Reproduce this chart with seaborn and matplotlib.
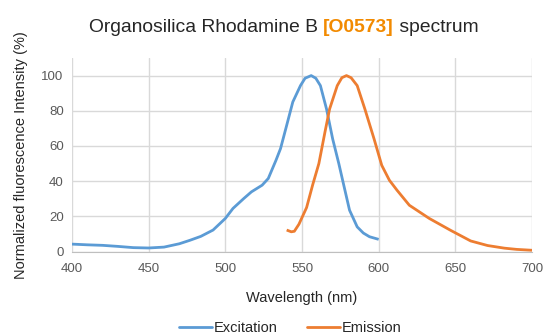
import seaborn as sns
import matplotlib.pyplot as plt
import pandas as pd

# Excitation spectrum
ex_wl = [400, 410, 420, 430, 440, 450, 460, 470, 477, 484, 492, 500, 505, 512,
         517, 524, 528, 533, 536, 540, 544, 549, 552, 556, 559, 562, 566, 570,
         574, 577, 581, 586, 590, 594, 600]
ex_val = [4.2, 3.8, 3.5, 2.9, 2.2, 2.0, 2.5, 4.4, 6.4, 8.6, 12.2, 18.8, 24.5,
          30.1, 33.9, 37.7, 41.5, 51.8, 58.5, 71.7, 85.0, 94.3, 98.5, 100.0,
          98.5, 94.3, 81.0, 64.0, 50.0, 38.6, 23.5, 14.0, 10.5, 8.4, 6.9]

# Emission spectrum
em_wl = [540, 543, 545, 548, 553, 557, 561, 565, 568, 573, 576, 579, 582, 586,
         591, 597, 602, 607, 612, 620, 633, 647, 660, 671, 682, 690, 700]
em_val = [12.2, 11.2, 11.5, 15.5, 25.0, 38.0, 50.0, 68.0, 81.0, 94.3, 98.8,
          100.0, 98.8, 94.3, 81.0, 64.0, 49.0, 40.5, 34.8, 26.3, 18.8, 12.0,
          6.0, 3.4, 1.9, 1.2, 0.7]

series_names = ["Excitation", "Emission"]
colors = ["#5B9BD5", "#ED7D31"]

df = pd.concat([
    pd.DataFrame({"wavelength": ex_wl, "intensity": ex_val, "series": series_names[0]}),
    pd.DataFrame({"wavelength": em_wl, "intensity": em_val, "series": series_names[1]}),
])

sns.set_style("white")
plt.rcParams["font.family"] = ["Liberation Sans", "DejaVu Sans"]

fig = plt.figure(figsize=(5.47, 3.35), dpi=100)
ax = fig.add_axes([72 / 547, 1 - 251.5 / 335, 460 / 547, (251.5 - 58) / 335])

sns.lineplot(data=df, x="wavelength", y="intensity", hue="series",
             palette=colors, linewidth=2, ax=ax, legend=False, sort=False)
for line in ax.get_lines():
    line.set_solid_joinstyle("round")
    line.set_solid_capstyle("butt")

ax.set_xlim(400, 700)
ax.set_ylim(0, 110)
ax.set_xticks(range(400, 701, 50))
ax.set_yticks(range(0, 101, 20))
ax.grid(True, color="#D9D9D9", linewidth=1)
ax.set_axisbelow(True)
for s in ["top", "right", "left"]:
    ax.spines[s].set_visible(False)
ax.spines["bottom"].set_color("#BFBFBF")
ax.tick_params(axis="both", colors="#595959", labelsize=9.5, length=0, pad=6)
ax.tick_params(axis="x", length=4, color="#BFBFBF", pad=4)

ax.set_xlabel("Wavelength (nm)", fontsize=10.5, color="#262626", labelpad=12)
ax.set_ylabel("Normalized fluorescence Intensity (%)", fontsize=10.5,
              color="#262626", labelpad=10)

# title with coloured code
t1 = fig.text(89 / 547, 1 - 32 / 335, "Organosilica Rhodamine B ",
              fontsize=13.9, color="#262626", va="baseline")
t2 = ax.annotate("[O0573]", xy=(1, 0), xycoords=t1, va="bottom", ha="left",
                 fontsize=13.9, color="#F28A00", fontweight="bold")
ax.annotate(" spectrum", xy=(1, 0), xycoords=t2, va="bottom", ha="left",
            fontsize=13.9, color="#262626")

handles = [plt.Line2D([], [], color=c, linewidth=2) for c in colors]
fig.legend(handles, series_names, loc="center", bbox_to_anchor=(0.53, 0.02),
           ncol=2, frameon=False, fontsize=10.5, handlelength=2.3,
           handletextpad=0.1, columnspacing=2.0)
for t in fig.legends[0].get_texts():
    t.set_color("#262626")

fig.savefig("out.png", dpi=100)
